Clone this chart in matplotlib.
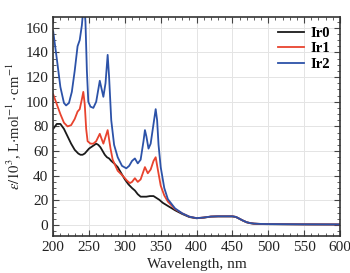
import matplotlib
matplotlib.use("Agg")
import matplotlib.pyplot as plt
from matplotlib.ticker import MultipleLocator

# absorption spectra
wl_ir0 = [200, 205, 210, 215, 220, 225, 230, 235, 238, 241, 244, 247, 250, 255, 260, 263,
          266, 269, 272, 275, 278, 281, 285, 290, 295, 300, 305, 310, 314, 318, 322, 326,
          330, 335, 340, 344, 348, 353, 360, 370, 380, 390, 400, 410, 420, 430, 440, 450,
          455, 460, 465, 470, 475, 480, 490, 500, 550, 600]
ir0 = [78, 82, 82, 78, 72, 66, 61, 58, 57, 57, 58, 60, 62, 64, 66, 65,
       63, 60, 57, 55, 54, 52, 50, 47, 42, 37, 33, 30, 28, 25, 23, 23,
       23, 23.5, 23.5, 22, 20.5, 18, 15.5, 12, 9, 6.5, 5.5, 6, 6.8, 7, 7, 7,
       6.5, 5, 3.5, 2.2, 1.5, 1.1, 0.8, 0.7, 0.5, 0.4]

wl_ir1 = [200, 205, 210, 215, 220, 225, 230, 234, 237, 240, 242, 244, 246, 248, 252, 256,
          260, 265, 270, 276, 280, 283, 290, 297, 303, 307, 310, 314, 318, 322, 328, 332,
          336, 340, 343, 346, 350, 355, 360, 370, 380, 390, 400, 410, 420, 430, 440, 450,
          455, 460, 465, 470, 475, 480, 490, 500, 550, 600]
ir1 = [106, 98, 90, 83, 80, 81, 86, 92, 94, 102, 108, 98, 78, 68, 66, 66,
       68, 74, 66, 77, 62, 53, 44, 40, 36, 34, 35, 38, 35, 37, 47, 42,
       45, 52, 55, 45, 32, 24, 19, 13, 9.5, 6.8, 5.6, 6.1, 6.9, 7.1, 7.1, 7.1,
       6.6, 5.1, 3.6, 2.3, 1.6, 1.2, 0.9, 0.8, 0.6, 0.5]

wl_ir2 = [200, 205, 210, 215, 218, 222, 226, 230, 234, 237, 240, 243, 245, 247, 249, 252,
          256, 260, 265, 270, 273, 276, 278, 281, 285, 290, 296, 302, 306, 310, 314, 318,
          322, 326, 328, 330, 333, 336, 340, 343, 345, 347, 350, 355, 360, 370, 380, 390,
          400, 410, 420, 430, 440, 450, 455, 460, 465, 470, 475, 480, 490, 500, 550, 600]
ir2 = [157, 135, 112, 99, 97, 99, 108, 125, 145, 150, 162, 182, 165, 125, 100, 96,
       95, 100, 117, 104, 115, 138, 120, 85, 65, 55, 48, 46, 48, 52, 54, 50,
       53, 68, 77, 72, 62, 66, 82, 94, 85, 65, 47, 30, 21, 13.5, 9.5, 6.8,
       5.6, 6.1, 6.9, 7.1, 7.1, 7.1, 6.6, 5.1, 3.6, 2.3, 1.6, 1.2, 0.9, 0.8, 0.6, 0.5]

plt.rcParams["font.family"] = ["Liberation Serif", "DejaVu Serif"]
plt.rcParams["mathtext.fontset"] = "stix"

fig = plt.figure(figsize=(3.5, 2.73), dpi=100)
ax = fig.add_axes([0.152, 0.135, 0.819, 0.804])

ax.plot(wl_ir0, ir0, color="#1a1a1a", lw=1.3, label="Ir0")
ax.plot(wl_ir1, ir1, color="#e8432e", lw=1.3, label="Ir1")
ax.plot(wl_ir2, ir2, color="#2c52a8", lw=1.3, label="Ir2")

ax.set_xlim(200, 600)
ax.set_ylim(-9, 169)
ax.xaxis.set_major_locator(MultipleLocator(50))
ax.xaxis.set_minor_locator(MultipleLocator(10))
ax.yaxis.set_major_locator(MultipleLocator(20))
ax.yaxis.set_minor_locator(MultipleLocator(5))
ax.tick_params(which="both", direction="in", top=True, right=True, colors="#444444",
               labelcolor="#222222", labelsize=11)
ax.tick_params(which="major", length=4, width=0.8)
ax.tick_params(which="minor", length=2, width=0.6)
ax.grid(True, color="#e4e4e4", lw=0.7)
for s in ax.spines.values():
  s.set_color("#333333")
  s.set_linewidth(1.2)

ax.set_xlabel("Wavelength, nm", fontsize=11, color="#222222", labelpad=3)
ax.set_ylabel(r"$\varepsilon/10^3$, L$\cdot$mol$^{-1}\cdot$cm$^{-1}$", fontsize=10.5,
              color="#222222", labelpad=2)

leg = ax.legend(loc="upper right", frameon=False, fontsize=10.5, handlelength=1.8,
                handletextpad=0.4, labelspacing=0.15, borderaxespad=0.3,
                prop={"weight": "bold", "size": 10.5})

fig.savefig("out.png", dpi=100)
